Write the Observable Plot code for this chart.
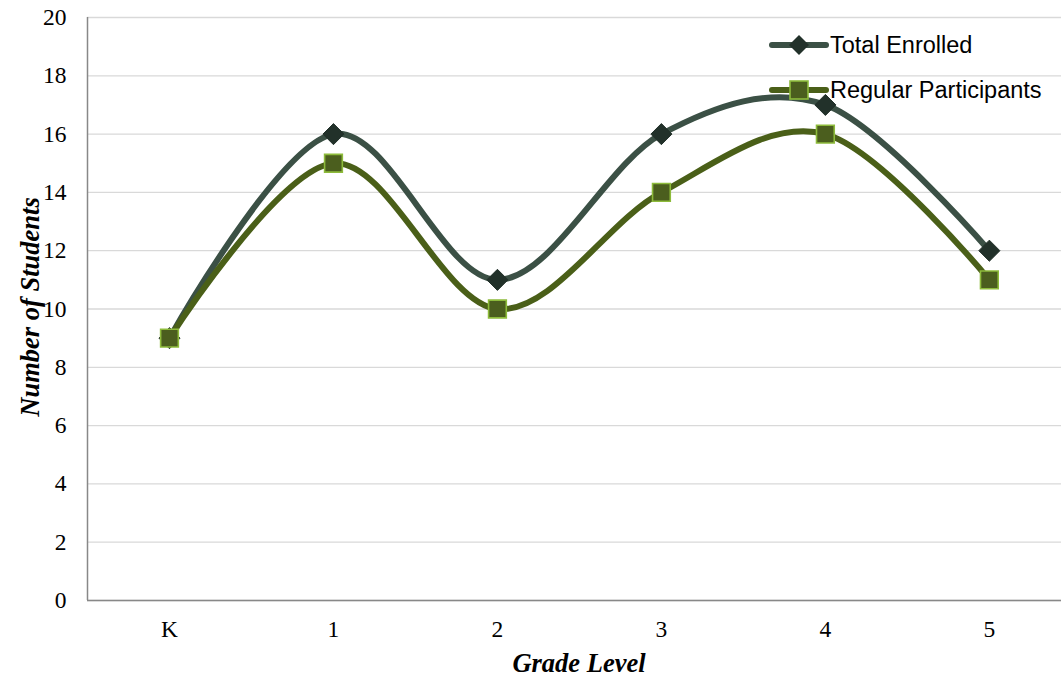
<!DOCTYPE html>
<html>
<head>
<meta charset="utf-8">
<script src="https://cdn.jsdelivr.net/npm/d3@7"></script>
<script src="https://cdn.jsdelivr.net/npm/@observablehq/plot@0.6"></script>
<style>
  body { margin: 0; background: #fff; }
  #wrap { position: relative; width: 1061px; height: 679px; overflow: hidden; }
  .ytitle { position: absolute; left: 30px; top: 307px; transform: translate(-50%, -50%) rotate(-90deg);
    font: italic bold 26.5px "Liberation Serif", serif; white-space: nowrap; }
  .xtitle { position: absolute; left: 579px; top: 663px; transform: translate(-50%, -50%);
    font: italic bold 26.5px "Liberation Serif", serif; white-space: nowrap; }
  .legend { position: absolute; left: 767px; top: 28px; font: 23.5px "Liberation Sans", sans-serif; }
  .legend .row { display: flex; align-items: center; height: 34px; margin-bottom: 11px; }
  .legend svg { display: block; margin-right: 0; }
</style>
</head>
<body>
<div id="wrap"></div>
<script>
const categories = ["K", "1", "2", "3", "4", "5"];
const totalEnrolled = [9, 16, 11, 16, 17, 12];
const regularParticipants = [9, 15, 10, 14, 16, 11];
const yTicks = [0, 2, 4, 6, 8, 10, 12, 14, 16, 18, 20];
const seriesNames = ["Total Enrolled", "Regular Participants"];

const totalData = categories.map((c, i) => ({i, v: totalEnrolled[i]}));
const regData = categories.map((c, i) => ({i, v: regularParticipants[i]}));

const colors = {
  totalLine: "#3b5045", totalMark: "#22312a",
  regLine: "#4a5f18", regMark: "#4b5e1e", regStroke: "#8dbb3b"
};

const plot = Plot.plot({
  width: 1061,
  height: 679,
  marginLeft: 87,
  marginRight: 0,
  marginTop: 17,
  marginBottom: 79,
  style: {fontFamily: "'Liberation Serif', serif", fontSize: "23.5px", color: "#000", background: "#fff"},
  x: {type: "linear", domain: [-0.5, 5.44]},
  y: {domain: [0, 20]},
  marks: [
    Plot.gridY(yTicks, {stroke: "#d9d9d9", strokeOpacity: 1, strokeWidth: 1.3}),
    Plot.axisY(yTicks, {tickSize: 0, tickPadding: 21, label: null}),
    Plot.axisX(categories.map((c, i) => i), {tickSize: 0, tickPadding: 20, tickFormat: i => categories[i], label: null}),
    Plot.ruleY([0], {stroke: "#888", strokeWidth: 1.5}),
    Plot.ruleX([-0.5], {stroke: "#888", strokeWidth: 1.5}),
    Plot.line(totalData, {x: "i", y: "v", curve: "cardinal", stroke: colors.totalLine, strokeWidth: 6}),
    Plot.dot(totalData, {x: "i", y: "v", symbol: "diamond2", r: 9.5, fill: colors.totalMark, stroke: colors.totalMark, strokeWidth: 1}),
    Plot.line(regData, {x: "i", y: "v", curve: "cardinal", stroke: colors.regLine, strokeWidth: 6}),
    Plot.dot(regData, {x: "i", y: "v", symbol: "square", r: 10, fill: colors.regMark, stroke: colors.regStroke, strokeWidth: 1.6})
  ]
});

const wrap = document.getElementById("wrap");
wrap.appendChild(plot);

const yt = document.createElement("div");
yt.className = "ytitle"; yt.textContent = "Number of Students";
wrap.appendChild(yt);
const xt = document.createElement("div");
xt.className = "xtitle"; xt.textContent = "Grade Level";
wrap.appendChild(xt);

// legend
const leg = document.createElement("div");
leg.className = "legend";
const sym = [
  `<svg width="63" height="34"><line x1="5" y1="17" x2="59" y2="17" stroke="${colors.totalLine}" stroke-width="6" stroke-linecap="round"/><path d="M32,7 L42,17 L32,27 L22,17Z" fill="${colors.totalMark}"/></svg>`,
  `<svg width="63" height="34"><line x1="5" y1="17" x2="59" y2="17" stroke="${colors.regLine}" stroke-width="6" stroke-linecap="round"/><rect x="23" y="8" width="18" height="18" fill="${colors.regMark}" stroke="${colors.regStroke}" stroke-width="1.6"/></svg>`
];
seriesNames.forEach((name, k) => {
  const row = document.createElement("div");
  row.className = "row";
  row.innerHTML = sym[k] + `<span>${name}</span>`;
  leg.appendChild(row);
});
wrap.appendChild(leg);
</script>
</body>
</html>
